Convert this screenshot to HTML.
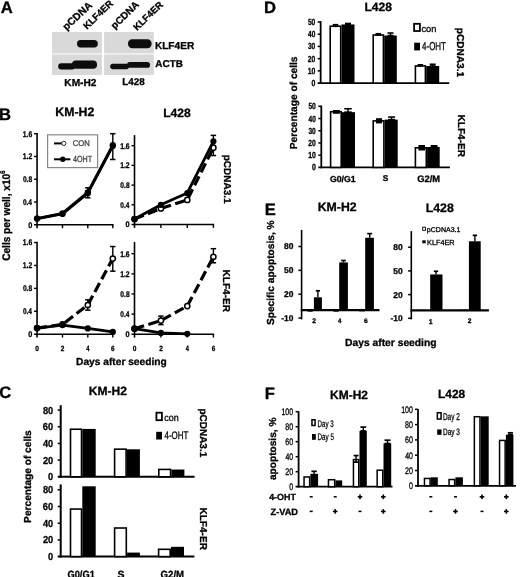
<!DOCTYPE html>
<html><head><meta charset="utf-8"><style>
html,body{margin:0;padding:0;background:#fff;}
svg{display:block;will-change:transform;filter:blur(0.35px);text-rendering:geometricPrecision;font-family:"Liberation Sans", sans-serif;}
text{stroke-width:0.3px;stroke-linejoin:round;}
</style></head><body>
<svg width="520" height="577" viewBox="0 0 520 577">
<defs><filter id="blur1" x="-20%" y="-50%" width="140%" height="200%"><feGaussianBlur stdDeviation="0.7"/></filter></defs>
<rect width="520" height="577" fill="#fff"/>
<text x="0.80" y="13.20" font-size="16.60" font-weight="bold" fill="#000" stroke="#000">A</text>
<text x="-1.00" y="119.50" font-size="16.60" font-weight="bold" fill="#000" stroke="#000">B</text>
<text x="-0.70" y="398.20" font-size="16.60" font-weight="bold" fill="#000" stroke="#000">C</text>
<text x="264.10" y="13.40" font-size="16.60" font-weight="bold" fill="#000" stroke="#000">D</text>
<text x="264.70" y="215.20" font-size="16.60" font-weight="bold" fill="#000" stroke="#000">E</text>
<text x="264.70" y="398.50" font-size="16.60" font-weight="bold" fill="#000" stroke="#000">F</text>
<rect x="52.00" y="32.00" width="49.90" height="21.40" fill="#d9d9d9"/>
<rect x="52.00" y="54.40" width="49.90" height="20.60" fill="#d9d9d9"/>
<rect x="104.10" y="32.00" width="49.70" height="21.40" fill="#d9d9d9"/>
<rect x="104.10" y="54.40" width="49.70" height="20.60" fill="#d9d9d9"/>
<g filter="url(#blur1)" fill="#0a0a0a">
<rect x="77.00" y="40.00" width="20.80" height="7.40" fill="#0a0a0a" rx="3.6"/>
<rect x="128.00" y="39.30" width="23.60" height="8.90" fill="#0a0a0a" rx="4.2"/>
<rect x="58.20" y="63.30" width="16.80" height="6.30" fill="#0a0a0a" rx="3"/>
<rect x="72.00" y="60.60" width="25.00" height="8.20" fill="#0a0a0a" rx="3.8"/>
<rect x="110.20" y="63.80" width="18.80" height="5.40" fill="#0a0a0a" rx="2.7"/>
<rect x="127.00" y="62.00" width="23.00" height="5.80" fill="#0a0a0a" rx="2.9"/>
</g>
<text transform="translate(66.50,30.80) rotate(-43)" font-size="10.30" font-weight="bold" fill="#000" stroke="#000">pCDNA</text>
<text transform="translate(87.00,29.80) rotate(-44)" font-size="9.50" font-weight="bold" fill="#000" stroke="#000">KLF4ER</text>
<text transform="translate(114.80,29.40) rotate(-44)" font-size="9.90" font-weight="bold" fill="#000" stroke="#000">pCDNA</text>
<text transform="translate(137.00,31.10) rotate(-44)" font-size="9.50" font-weight="bold" fill="#000" stroke="#000">KLF4ER</text>
<text x="154.92" y="48.82" font-size="10.11" font-weight="bold" textLength="39.30" lengthAdjust="spacingAndGlyphs" fill="#000" stroke="#000">KLF4ER</text>
<text x="155.35" y="67.17" font-size="9.94" font-weight="bold" textLength="27.59" lengthAdjust="spacingAndGlyphs" fill="#000" stroke="#000">ACTB</text>
<text x="64.32" y="85.99" font-size="10.14" font-weight="bold" textLength="32.11" lengthAdjust="spacingAndGlyphs" fill="#000" stroke="#000">KM-H2</text>
<text x="122.23" y="85.49" font-size="9.86" font-weight="bold" textLength="22.48" lengthAdjust="spacingAndGlyphs" fill="#000" stroke="#000">L428</text>
<text x="55.37" y="116.39" font-size="12.30" font-weight="bold" textLength="38.94" lengthAdjust="spacingAndGlyphs" fill="#000" stroke="#000">KM-H2</text>
<text x="163.19" y="116.80" font-size="12.06" font-weight="bold" textLength="27.50" lengthAdjust="spacingAndGlyphs" fill="#000" stroke="#000">L428</text>
<text transform="translate(9.6,260.8) rotate(-90)" font-size="11" font-weight="bold" textLength="90.5" lengthAdjust="spacingAndGlyphs" stroke="#000">Cells per well, x10<tspan font-size="7" dy="-4.2">6</tspan></text>
<text transform="translate(223.86,154.75) rotate(90)" font-size="9.97" font-weight="bold" textLength="48.75" lengthAdjust="spacingAndGlyphs" fill="#000" stroke="#000">pCDNA3.1</text>
<text transform="translate(222.99,269.52) rotate(90)" font-size="10.07" font-weight="bold" textLength="42.50" lengthAdjust="spacingAndGlyphs" fill="#000" stroke="#000">KLF4-ER</text>
<text x="76.11" y="364.96" font-size="10.18" font-weight="bold" textLength="90.55" lengthAdjust="spacingAndGlyphs" fill="#000" stroke="#000">Days after seeding</text>
<line x1="37.05" y1="133.00" x2="37.05" y2="228.20" stroke="#000" stroke-width="1.6" stroke-linecap="butt"/>
<line x1="34.05" y1="224.80" x2="113.60" y2="224.80" stroke="#000" stroke-width="1.6" stroke-linecap="butt"/>
<line x1="34.05" y1="202.02" x2="37.05" y2="202.02" stroke="#000" stroke-width="1.4" stroke-linecap="butt"/>
<line x1="34.05" y1="179.25" x2="37.05" y2="179.25" stroke="#000" stroke-width="1.4" stroke-linecap="butt"/>
<line x1="34.05" y1="156.47" x2="37.05" y2="156.47" stroke="#000" stroke-width="1.4" stroke-linecap="butt"/>
<line x1="34.05" y1="133.70" x2="37.05" y2="133.70" stroke="#000" stroke-width="1.4" stroke-linecap="butt"/>
<line x1="62.50" y1="224.80" x2="62.50" y2="228.20" stroke="#000" stroke-width="1.4" stroke-linecap="butt"/>
<line x1="87.80" y1="224.80" x2="87.80" y2="228.20" stroke="#000" stroke-width="1.4" stroke-linecap="butt"/>
<line x1="112.80" y1="224.80" x2="112.80" y2="228.20" stroke="#000" stroke-width="1.4" stroke-linecap="butt"/>
<text x="28.16" y="227.62" font-size="8.20" font-weight="bold" textLength="4.10" lengthAdjust="spacingAndGlyphs" fill="#000" stroke="#000">0</text>
<text x="22.89" y="204.84" font-size="8.20" font-weight="bold" textLength="9.10" lengthAdjust="spacingAndGlyphs" fill="#000" stroke="#000">0.4</text>
<text x="22.88" y="182.07" font-size="8.20" font-weight="bold" textLength="9.27" lengthAdjust="spacingAndGlyphs" fill="#000" stroke="#000">0.8</text>
<text x="22.72" y="159.37" font-size="8.32" font-weight="bold" textLength="9.50" lengthAdjust="spacingAndGlyphs" fill="#000" stroke="#000">1.2</text>
<text x="22.72" y="136.51" font-size="8.20" font-weight="bold" textLength="9.47" lengthAdjust="spacingAndGlyphs" fill="#000" stroke="#000">1.6</text>
<line x1="112.80" y1="133.70" x2="112.80" y2="159.49" stroke="#000" stroke-width="1.4" stroke-linecap="butt"/>
<line x1="110.10" y1="133.70" x2="115.50" y2="133.70" stroke="#000" stroke-width="1.5" stroke-linecap="butt"/>
<line x1="110.10" y1="159.49" x2="115.50" y2="159.49" stroke="#000" stroke-width="1.5" stroke-linecap="butt"/>
<line x1="87.80" y1="187.79" x2="87.80" y2="197.75" stroke="#000" stroke-width="1.4" stroke-linecap="butt"/>
<line x1="85.10" y1="187.79" x2="90.50" y2="187.79" stroke="#000" stroke-width="1.5" stroke-linecap="butt"/>
<line x1="85.10" y1="197.75" x2="90.50" y2="197.75" stroke="#000" stroke-width="1.5" stroke-linecap="butt"/>
<polyline points="37.05,218.54 62.50,213.98 87.80,193.20 112.80,145.88" fill="none" stroke="#000" stroke-width="2.8" stroke-linecap="butt" stroke-linejoin="round"/>
<circle cx="37.05" cy="218.54" r="3.10" fill="#000"/>
<circle cx="62.50" cy="213.98" r="3.10" fill="#000"/>
<circle cx="87.80" cy="193.20" r="3.10" fill="#000"/>
<circle cx="112.80" cy="145.88" r="3.10" fill="#000"/>
<polyline points="37.05,218.54 62.50,213.41 87.80,192.34 112.80,145.08" fill="none" stroke="#000" stroke-width="2.8" stroke-linecap="butt" stroke-linejoin="round"/>
<circle cx="37.05" cy="218.54" r="3.10" fill="#000"/>
<circle cx="62.50" cy="213.41" r="3.10" fill="#000"/>
<circle cx="87.80" cy="192.34" r="3.10" fill="#000"/>
<circle cx="112.80" cy="145.08" r="3.10" fill="#000"/>
<line x1="134.50" y1="135.10" x2="134.50" y2="227.90" stroke="#000" stroke-width="1.6" stroke-linecap="butt"/>
<line x1="131.50" y1="224.50" x2="214.20" y2="224.50" stroke="#000" stroke-width="1.6" stroke-linecap="butt"/>
<line x1="131.50" y1="204.80" x2="134.50" y2="204.80" stroke="#000" stroke-width="1.4" stroke-linecap="butt"/>
<line x1="131.50" y1="185.10" x2="134.50" y2="185.10" stroke="#000" stroke-width="1.4" stroke-linecap="butt"/>
<line x1="131.50" y1="165.40" x2="134.50" y2="165.40" stroke="#000" stroke-width="1.4" stroke-linecap="butt"/>
<line x1="131.50" y1="145.70" x2="134.50" y2="145.70" stroke="#000" stroke-width="1.4" stroke-linecap="butt"/>
<line x1="160.90" y1="224.50" x2="160.90" y2="227.90" stroke="#000" stroke-width="1.4" stroke-linecap="butt"/>
<line x1="187.30" y1="224.50" x2="187.30" y2="227.90" stroke="#000" stroke-width="1.4" stroke-linecap="butt"/>
<line x1="213.40" y1="224.50" x2="213.40" y2="227.90" stroke="#000" stroke-width="1.4" stroke-linecap="butt"/>
<text x="125.61" y="227.32" font-size="8.20" font-weight="bold" textLength="4.10" lengthAdjust="spacingAndGlyphs" fill="#000" stroke="#000">0</text>
<text x="120.34" y="207.62" font-size="8.20" font-weight="bold" textLength="9.10" lengthAdjust="spacingAndGlyphs" fill="#000" stroke="#000">0.4</text>
<text x="120.33" y="187.92" font-size="8.20" font-weight="bold" textLength="9.27" lengthAdjust="spacingAndGlyphs" fill="#000" stroke="#000">0.8</text>
<text x="120.17" y="168.30" font-size="8.32" font-weight="bold" textLength="9.50" lengthAdjust="spacingAndGlyphs" fill="#000" stroke="#000">1.2</text>
<text x="120.17" y="148.52" font-size="8.20" font-weight="bold" textLength="9.47" lengthAdjust="spacingAndGlyphs" fill="#000" stroke="#000">1.6</text>
<line x1="213.40" y1="135.36" x2="213.40" y2="155.55" stroke="#000" stroke-width="1.4" stroke-linecap="butt"/>
<line x1="210.70" y1="135.36" x2="216.10" y2="135.36" stroke="#000" stroke-width="1.5" stroke-linecap="butt"/>
<line x1="210.70" y1="155.55" x2="216.10" y2="155.55" stroke="#000" stroke-width="1.5" stroke-linecap="butt"/>
<polyline points="134.50,219.08 160.90,208.49 187.30,199.88 213.40,147.67" fill="none" stroke="#000" stroke-width="3.2" stroke-dasharray="10,4.5" stroke-linecap="butt" stroke-linejoin="round"/>
<circle cx="134.50" cy="219.08" r="2.60" fill="#fff" stroke="#000" stroke-width="1.5"/>
<circle cx="160.90" cy="208.49" r="2.60" fill="#fff" stroke="#000" stroke-width="1.5"/>
<circle cx="187.30" cy="199.88" r="2.60" fill="#fff" stroke="#000" stroke-width="1.5"/>
<circle cx="213.40" cy="147.67" r="2.60" fill="#fff" stroke="#000" stroke-width="1.5"/>
<polyline points="134.50,219.08 160.90,204.80 187.30,192.98 213.40,141.27" fill="none" stroke="#000" stroke-width="2.8" stroke-linecap="butt" stroke-linejoin="round"/>
<circle cx="134.50" cy="219.08" r="3.10" fill="#000"/>
<circle cx="160.90" cy="204.80" r="3.10" fill="#000"/>
<circle cx="187.30" cy="192.98" r="3.10" fill="#000"/>
<circle cx="213.40" cy="141.27" r="3.10" fill="#000"/>
<line x1="37.05" y1="241.80" x2="37.05" y2="337.60" stroke="#000" stroke-width="1.6" stroke-linecap="butt"/>
<line x1="34.05" y1="334.20" x2="113.60" y2="334.20" stroke="#000" stroke-width="1.6" stroke-linecap="butt"/>
<line x1="34.05" y1="311.28" x2="37.05" y2="311.28" stroke="#000" stroke-width="1.4" stroke-linecap="butt"/>
<line x1="34.05" y1="288.36" x2="37.05" y2="288.36" stroke="#000" stroke-width="1.4" stroke-linecap="butt"/>
<line x1="34.05" y1="265.44" x2="37.05" y2="265.44" stroke="#000" stroke-width="1.4" stroke-linecap="butt"/>
<line x1="34.05" y1="242.52" x2="37.05" y2="242.52" stroke="#000" stroke-width="1.4" stroke-linecap="butt"/>
<line x1="62.50" y1="334.20" x2="62.50" y2="337.60" stroke="#000" stroke-width="1.4" stroke-linecap="butt"/>
<line x1="87.80" y1="334.20" x2="87.80" y2="337.60" stroke="#000" stroke-width="1.4" stroke-linecap="butt"/>
<line x1="112.80" y1="334.20" x2="112.80" y2="337.60" stroke="#000" stroke-width="1.4" stroke-linecap="butt"/>
<text x="28.16" y="337.02" font-size="8.20" font-weight="bold" textLength="4.10" lengthAdjust="spacingAndGlyphs" fill="#000" stroke="#000">0</text>
<text x="22.89" y="314.10" font-size="8.20" font-weight="bold" textLength="9.10" lengthAdjust="spacingAndGlyphs" fill="#000" stroke="#000">0.4</text>
<text x="22.88" y="291.18" font-size="8.20" font-weight="bold" textLength="9.27" lengthAdjust="spacingAndGlyphs" fill="#000" stroke="#000">0.8</text>
<text x="22.72" y="268.34" font-size="8.32" font-weight="bold" textLength="9.50" lengthAdjust="spacingAndGlyphs" fill="#000" stroke="#000">1.2</text>
<text x="22.72" y="245.34" font-size="8.20" font-weight="bold" textLength="9.47" lengthAdjust="spacingAndGlyphs" fill="#000" stroke="#000">1.6</text>
<text x="35.29" y="350.93" font-size="7.49" font-weight="bold" textLength="3.63" lengthAdjust="spacingAndGlyphs" fill="#000" stroke="#000">0</text>
<text x="60.77" y="351.00" font-size="7.60" font-weight="bold" textLength="3.59" lengthAdjust="spacingAndGlyphs" fill="#000" stroke="#000">2</text>
<text x="86.21" y="351.00" font-size="7.71" font-weight="bold" textLength="3.22" lengthAdjust="spacingAndGlyphs" fill="#000" stroke="#000">4</text>
<text x="111.06" y="350.93" font-size="7.49" font-weight="bold" textLength="3.57" lengthAdjust="spacingAndGlyphs" fill="#000" stroke="#000">6</text>
<line x1="112.80" y1="246.53" x2="112.80" y2="271.17" stroke="#000" stroke-width="1.4" stroke-linecap="butt"/>
<line x1="110.10" y1="246.53" x2="115.50" y2="246.53" stroke="#000" stroke-width="1.5" stroke-linecap="butt"/>
<line x1="110.10" y1="271.17" x2="115.50" y2="271.17" stroke="#000" stroke-width="1.5" stroke-linecap="butt"/>
<line x1="87.80" y1="299.82" x2="87.80" y2="310.13" stroke="#000" stroke-width="1.4" stroke-linecap="butt"/>
<line x1="85.10" y1="299.82" x2="90.50" y2="299.82" stroke="#000" stroke-width="1.5" stroke-linecap="butt"/>
<line x1="85.10" y1="310.13" x2="90.50" y2="310.13" stroke="#000" stroke-width="1.5" stroke-linecap="butt"/>
<polyline points="37.05,328.07 62.50,324.46 87.80,304.98 112.80,258.56" fill="none" stroke="#000" stroke-width="3.2" stroke-dasharray="10,4.5" stroke-linecap="butt" stroke-linejoin="round"/>
<circle cx="37.05" cy="328.07" r="2.60" fill="#fff" stroke="#000" stroke-width="1.5"/>
<circle cx="62.50" cy="324.46" r="2.60" fill="#fff" stroke="#000" stroke-width="1.5"/>
<circle cx="87.80" cy="304.98" r="2.60" fill="#fff" stroke="#000" stroke-width="1.5"/>
<circle cx="112.80" cy="258.56" r="2.60" fill="#fff" stroke="#000" stroke-width="1.5"/>
<polyline points="37.05,328.07 62.50,325.03 87.80,328.47 112.80,331.91" fill="none" stroke="#000" stroke-width="2.8" stroke-linecap="butt" stroke-linejoin="round"/>
<circle cx="37.05" cy="328.07" r="3.10" fill="#000"/>
<circle cx="62.50" cy="325.03" r="3.10" fill="#000"/>
<circle cx="87.80" cy="328.47" r="3.10" fill="#000"/>
<circle cx="112.80" cy="331.91" r="3.10" fill="#000"/>
<line x1="134.50" y1="241.90" x2="134.50" y2="337.60" stroke="#000" stroke-width="1.6" stroke-linecap="butt"/>
<line x1="131.50" y1="334.20" x2="214.20" y2="334.20" stroke="#000" stroke-width="1.6" stroke-linecap="butt"/>
<line x1="131.50" y1="314.08" x2="134.50" y2="314.08" stroke="#000" stroke-width="1.4" stroke-linecap="butt"/>
<line x1="131.50" y1="293.96" x2="134.50" y2="293.96" stroke="#000" stroke-width="1.4" stroke-linecap="butt"/>
<line x1="131.50" y1="273.84" x2="134.50" y2="273.84" stroke="#000" stroke-width="1.4" stroke-linecap="butt"/>
<line x1="131.50" y1="253.72" x2="134.50" y2="253.72" stroke="#000" stroke-width="1.4" stroke-linecap="butt"/>
<line x1="160.90" y1="334.20" x2="160.90" y2="337.60" stroke="#000" stroke-width="1.4" stroke-linecap="butt"/>
<line x1="187.30" y1="334.20" x2="187.30" y2="337.60" stroke="#000" stroke-width="1.4" stroke-linecap="butt"/>
<line x1="213.40" y1="334.20" x2="213.40" y2="337.60" stroke="#000" stroke-width="1.4" stroke-linecap="butt"/>
<text x="125.61" y="337.02" font-size="8.20" font-weight="bold" textLength="4.10" lengthAdjust="spacingAndGlyphs" fill="#000" stroke="#000">0</text>
<text x="120.34" y="316.90" font-size="8.20" font-weight="bold" textLength="9.10" lengthAdjust="spacingAndGlyphs" fill="#000" stroke="#000">0.4</text>
<text x="120.33" y="296.78" font-size="8.20" font-weight="bold" textLength="9.27" lengthAdjust="spacingAndGlyphs" fill="#000" stroke="#000">0.8</text>
<text x="120.17" y="276.74" font-size="8.32" font-weight="bold" textLength="9.50" lengthAdjust="spacingAndGlyphs" fill="#000" stroke="#000">1.2</text>
<text x="120.17" y="256.54" font-size="8.20" font-weight="bold" textLength="9.47" lengthAdjust="spacingAndGlyphs" fill="#000" stroke="#000">1.6</text>
<text x="132.74" y="350.93" font-size="7.49" font-weight="bold" textLength="3.63" lengthAdjust="spacingAndGlyphs" fill="#000" stroke="#000">0</text>
<text x="159.17" y="351.00" font-size="7.60" font-weight="bold" textLength="3.59" lengthAdjust="spacingAndGlyphs" fill="#000" stroke="#000">2</text>
<text x="185.71" y="351.00" font-size="7.71" font-weight="bold" textLength="3.22" lengthAdjust="spacingAndGlyphs" fill="#000" stroke="#000">4</text>
<text x="211.66" y="350.93" font-size="7.49" font-weight="bold" textLength="3.57" lengthAdjust="spacingAndGlyphs" fill="#000" stroke="#000">6</text>
<line x1="213.40" y1="248.69" x2="213.40" y2="262.77" stroke="#000" stroke-width="1.4" stroke-linecap="butt"/>
<line x1="210.70" y1="248.69" x2="216.10" y2="248.69" stroke="#000" stroke-width="1.5" stroke-linecap="butt"/>
<line x1="210.70" y1="262.77" x2="216.10" y2="262.77" stroke="#000" stroke-width="1.5" stroke-linecap="butt"/>
<line x1="160.90" y1="316.09" x2="160.90" y2="324.64" stroke="#000" stroke-width="1.4" stroke-linecap="butt"/>
<line x1="158.20" y1="316.09" x2="163.60" y2="316.09" stroke="#000" stroke-width="1.5" stroke-linecap="butt"/>
<line x1="158.20" y1="324.64" x2="163.60" y2="324.64" stroke="#000" stroke-width="1.5" stroke-linecap="butt"/>
<polyline points="134.50,328.67 160.90,320.62 187.30,306.03 213.40,256.74" fill="none" stroke="#000" stroke-width="3.2" stroke-dasharray="10,4.5" stroke-linecap="butt" stroke-linejoin="round"/>
<circle cx="134.50" cy="328.67" r="2.60" fill="#fff" stroke="#000" stroke-width="1.5"/>
<circle cx="160.90" cy="320.62" r="2.60" fill="#fff" stroke="#000" stroke-width="1.5"/>
<circle cx="187.30" cy="306.03" r="2.60" fill="#fff" stroke="#000" stroke-width="1.5"/>
<circle cx="213.40" cy="256.74" r="2.60" fill="#fff" stroke="#000" stroke-width="1.5"/>
<polyline points="134.50,328.67 160.90,332.94 187.30,333.80" fill="none" stroke="#000" stroke-width="2.8" stroke-linecap="butt" stroke-linejoin="round"/>
<circle cx="134.50" cy="328.67" r="3.10" fill="#000"/>
<circle cx="160.90" cy="332.94" r="3.10" fill="#000"/>
<circle cx="187.30" cy="333.80" r="3.10" fill="#000"/>
<rect x="47.60" y="134.80" width="50.00" height="32.80" fill="#fff" stroke="#888" stroke-width="1.2"/>
<line x1="54.00" y1="143.40" x2="62.00" y2="143.40" stroke="#000" stroke-width="2.0" stroke-linecap="butt"/>
<circle cx="63.80" cy="143.40" r="2.10" fill="#fff" stroke="#222" stroke-width="1.0"/>
<line x1="54.00" y1="159.30" x2="70.40" y2="159.30" stroke="#000" stroke-width="2.0" stroke-linecap="butt"/>
<circle cx="62.80" cy="159.30" r="2.70" fill="#000"/>
<text x="72.82" y="146.42" font-size="8.34" font-weight="normal" textLength="17.01" lengthAdjust="spacingAndGlyphs" fill="#444" stroke="#444">CON</text>
<text x="73.04" y="162.31" font-size="8.90" font-weight="normal" textLength="19.04" lengthAdjust="spacingAndGlyphs" fill="#444" stroke="#444">4OHT</text>
<text x="88.79" y="394.81" font-size="12.07" font-weight="bold" textLength="38.22" lengthAdjust="spacingAndGlyphs" fill="#000" stroke="#000">KM-H2</text>
<line x1="60.70" y1="405.20" x2="60.70" y2="477.80" stroke="#000" stroke-width="2.0" stroke-linecap="butt"/>
<line x1="57.70" y1="476.80" x2="194.60" y2="476.80" stroke="#000" stroke-width="2.0" stroke-linecap="butt"/>
<text x="48.03" y="480.30" font-size="10.18" font-weight="bold" textLength="5.15" lengthAdjust="spacingAndGlyphs" fill="#000" stroke="#000">0</text>
<line x1="57.70" y1="460.12" x2="60.70" y2="460.12" stroke="#000" stroke-width="1.5" stroke-linecap="butt"/>
<text x="42.88" y="463.62" font-size="10.18" font-weight="bold" textLength="10.32" lengthAdjust="spacingAndGlyphs" fill="#000" stroke="#000">20</text>
<line x1="57.70" y1="443.44" x2="60.70" y2="443.44" stroke="#000" stroke-width="1.5" stroke-linecap="butt"/>
<text x="43.06" y="446.94" font-size="10.18" font-weight="bold" textLength="10.12" lengthAdjust="spacingAndGlyphs" fill="#000" stroke="#000">40</text>
<line x1="57.70" y1="426.76" x2="60.70" y2="426.76" stroke="#000" stroke-width="1.5" stroke-linecap="butt"/>
<text x="42.85" y="430.26" font-size="10.18" font-weight="bold" textLength="10.34" lengthAdjust="spacingAndGlyphs" fill="#000" stroke="#000">60</text>
<line x1="57.70" y1="410.08" x2="60.70" y2="410.08" stroke="#000" stroke-width="1.5" stroke-linecap="butt"/>
<text x="42.90" y="413.58" font-size="10.18" font-weight="bold" textLength="10.29" lengthAdjust="spacingAndGlyphs" fill="#000" stroke="#000">80</text>
<rect x="70.50" y="429.23" width="11.00" height="47.57" fill="#fff" stroke="#000" stroke-width="1.6"/>
<rect x="82.30" y="428.93" width="13.40" height="47.87" fill="#000"/>
<rect x="114.60" y="449.16" width="11.50" height="27.64" fill="#fff" stroke="#000" stroke-width="1.6"/>
<rect x="126.90" y="449.28" width="13.00" height="27.52" fill="#000"/>
<rect x="158.80" y="469.43" width="11.80" height="7.37" fill="#fff" stroke="#000" stroke-width="1.6"/>
<rect x="171.40" y="469.54" width="13.00" height="7.26" fill="#000"/>
<line x1="60.70" y1="484.40" x2="60.70" y2="557.60" stroke="#000" stroke-width="2.0" stroke-linecap="butt"/>
<line x1="57.70" y1="556.60" x2="194.40" y2="556.60" stroke="#000" stroke-width="2.0" stroke-linecap="butt"/>
<text x="48.03" y="560.10" font-size="10.18" font-weight="bold" textLength="5.15" lengthAdjust="spacingAndGlyphs" fill="#000" stroke="#000">0</text>
<line x1="57.70" y1="539.90" x2="60.70" y2="539.90" stroke="#000" stroke-width="1.5" stroke-linecap="butt"/>
<text x="42.88" y="543.40" font-size="10.18" font-weight="bold" textLength="10.32" lengthAdjust="spacingAndGlyphs" fill="#000" stroke="#000">20</text>
<line x1="57.70" y1="523.20" x2="60.70" y2="523.20" stroke="#000" stroke-width="1.5" stroke-linecap="butt"/>
<text x="43.06" y="526.70" font-size="10.18" font-weight="bold" textLength="10.12" lengthAdjust="spacingAndGlyphs" fill="#000" stroke="#000">40</text>
<line x1="57.70" y1="506.50" x2="60.70" y2="506.50" stroke="#000" stroke-width="1.5" stroke-linecap="butt"/>
<text x="42.85" y="510.00" font-size="10.18" font-weight="bold" textLength="10.34" lengthAdjust="spacingAndGlyphs" fill="#000" stroke="#000">60</text>
<line x1="57.70" y1="489.80" x2="60.70" y2="489.80" stroke="#000" stroke-width="1.5" stroke-linecap="butt"/>
<text x="42.90" y="493.30" font-size="10.18" font-weight="bold" textLength="10.29" lengthAdjust="spacingAndGlyphs" fill="#000" stroke="#000">80</text>
<rect x="70.50" y="509.05" width="11.00" height="47.55" fill="#fff" stroke="#000" stroke-width="1.6"/>
<rect x="82.30" y="486.29" width="13.40" height="70.31" fill="#000"/>
<rect x="114.60" y="528.01" width="11.70" height="28.59" fill="#fff" stroke="#000" stroke-width="1.6"/>
<rect x="127.10" y="552.59" width="12.80" height="4.01" fill="#000"/>
<rect x="158.60" y="549.30" width="11.60" height="7.30" fill="#fff" stroke="#000" stroke-width="1.6"/>
<rect x="171.00" y="546.83" width="13.00" height="9.77" fill="#000"/>
<rect x="156.40" y="412.70" width="5.50" height="7.50" fill="#fff" stroke="#000" stroke-width="1.8"/>
<rect x="156.20" y="431.80" width="5.80" height="7.70" fill="#000"/>
<text x="164.32" y="421.00" font-size="9.86" font-weight="normal" textLength="14.49" lengthAdjust="spacingAndGlyphs" fill="#000" stroke="#000">con</text>
<text x="164.52" y="439.39" font-size="10.88" font-weight="normal" textLength="23.86" lengthAdjust="spacingAndGlyphs" fill="#000" stroke="#000">4-OHT</text>
<text transform="translate(199.96,408.45) rotate(90)" font-size="9.97" font-weight="bold" textLength="48.75" lengthAdjust="spacingAndGlyphs" fill="#000" stroke="#000">pCDNA3.1</text>
<text transform="translate(200.24,507.42) rotate(90)" font-size="10.07" font-weight="bold" textLength="42.50" lengthAdjust="spacingAndGlyphs" fill="#000" stroke="#000">KLF4-ER</text>
<text transform="translate(31.20,522.89) rotate(-90)" font-size="10.16" font-weight="bold" textLength="92.60" lengthAdjust="spacingAndGlyphs" fill="#000" stroke="#000">Percentage of cells</text>
<text x="67.50" y="578.00" font-size="10.40" font-weight="bold" textLength="27.30" lengthAdjust="spacingAndGlyphs" fill="#000" stroke="#000">G0/G1</text>
<text x="117.50" y="578.00" font-size="10.40" font-weight="bold" textLength="7.00" lengthAdjust="spacingAndGlyphs" fill="#000" stroke="#000">S</text>
<text x="160.60" y="578.00" font-size="10.40" font-weight="bold" textLength="23.50" lengthAdjust="spacingAndGlyphs" fill="#000" stroke="#000">G2/M</text>
<text x="364.49" y="10.50" font-size="12.06" font-weight="bold" textLength="27.50" lengthAdjust="spacingAndGlyphs" fill="#000" stroke="#000">L428</text>
<line x1="320.65" y1="21.10" x2="320.65" y2="84.00" stroke="#000" stroke-width="1.8" stroke-linecap="butt"/>
<line x1="317.65" y1="83.10" x2="449.20" y2="83.10" stroke="#000" stroke-width="1.8" stroke-linecap="butt"/>
<text x="311.42" y="86.16" font-size="8.90" font-weight="bold" textLength="3.86" lengthAdjust="spacingAndGlyphs" fill="#000" stroke="#000">0</text>
<line x1="317.65" y1="70.88" x2="320.65" y2="70.88" stroke="#000" stroke-width="1.5" stroke-linecap="butt"/>
<text x="307.67" y="73.94" font-size="8.90" font-weight="bold" textLength="7.62" lengthAdjust="spacingAndGlyphs" fill="#000" stroke="#000">10</text>
<line x1="317.65" y1="58.66" x2="320.65" y2="58.66" stroke="#000" stroke-width="1.5" stroke-linecap="butt"/>
<text x="307.87" y="61.72" font-size="8.90" font-weight="bold" textLength="7.42" lengthAdjust="spacingAndGlyphs" fill="#000" stroke="#000">20</text>
<line x1="317.65" y1="46.44" x2="320.65" y2="46.44" stroke="#000" stroke-width="1.5" stroke-linecap="butt"/>
<text x="307.95" y="49.48" font-size="8.87" font-weight="bold" textLength="7.33" lengthAdjust="spacingAndGlyphs" fill="#000" stroke="#000">30</text>
<line x1="317.65" y1="34.22" x2="320.65" y2="34.22" stroke="#000" stroke-width="1.5" stroke-linecap="butt"/>
<text x="308.00" y="37.28" font-size="8.90" font-weight="bold" textLength="7.28" lengthAdjust="spacingAndGlyphs" fill="#000" stroke="#000">40</text>
<line x1="317.65" y1="22.00" x2="320.65" y2="22.00" stroke="#000" stroke-width="1.5" stroke-linecap="butt"/>
<text x="307.90" y="25.06" font-size="8.90" font-weight="bold" textLength="7.38" lengthAdjust="spacingAndGlyphs" fill="#000" stroke="#000">50</text>
<rect x="330.20" y="26.22" width="10.50" height="56.88" fill="#fff" stroke="#000" stroke-width="1.6"/>
<rect x="341.50" y="24.44" width="13.00" height="58.66" fill="#000"/>
<rect x="373.20" y="35.02" width="10.20" height="48.08" fill="#fff" stroke="#000" stroke-width="1.6"/>
<rect x="384.20" y="35.56" width="12.60" height="47.54" fill="#000"/>
<rect x="415.40" y="65.94" width="10.00" height="17.16" fill="#fff" stroke="#000" stroke-width="1.6"/>
<rect x="426.20" y="65.99" width="13.00" height="17.11" fill="#000"/>
<line x1="335.50" y1="26.28" x2="335.50" y2="24.69" stroke="#000" stroke-width="1.4" stroke-linecap="butt"/>
<line x1="332.75" y1="24.69" x2="338.25" y2="24.69" stroke="#000" stroke-width="1.6" stroke-linecap="butt"/>
<line x1="332.75" y1="26.28" x2="338.25" y2="26.28" stroke="#000" stroke-width="1.6" stroke-linecap="butt"/>
<line x1="348.00" y1="24.44" x2="348.00" y2="23.47" stroke="#000" stroke-width="1.4" stroke-linecap="butt"/>
<line x1="345.00" y1="23.47" x2="351.00" y2="23.47" stroke="#000" stroke-width="1.6" stroke-linecap="butt"/>
<line x1="345.00" y1="24.44" x2="351.00" y2="24.44" stroke="#000" stroke-width="1.6" stroke-linecap="butt"/>
<line x1="378.30" y1="34.95" x2="378.30" y2="33.73" stroke="#000" stroke-width="1.4" stroke-linecap="butt"/>
<line x1="375.55" y1="33.73" x2="381.05" y2="33.73" stroke="#000" stroke-width="1.6" stroke-linecap="butt"/>
<line x1="375.55" y1="34.95" x2="381.05" y2="34.95" stroke="#000" stroke-width="1.6" stroke-linecap="butt"/>
<line x1="390.50" y1="35.56" x2="390.50" y2="33.00" stroke="#000" stroke-width="1.4" stroke-linecap="butt"/>
<line x1="387.50" y1="33.00" x2="393.50" y2="33.00" stroke="#000" stroke-width="1.6" stroke-linecap="butt"/>
<line x1="387.50" y1="35.56" x2="393.50" y2="35.56" stroke="#000" stroke-width="1.6" stroke-linecap="butt"/>
<line x1="420.40" y1="65.75" x2="420.40" y2="64.77" stroke="#000" stroke-width="1.4" stroke-linecap="butt"/>
<line x1="417.65" y1="64.77" x2="423.15" y2="64.77" stroke="#000" stroke-width="1.6" stroke-linecap="butt"/>
<line x1="417.65" y1="65.75" x2="423.15" y2="65.75" stroke="#000" stroke-width="1.6" stroke-linecap="butt"/>
<line x1="432.70" y1="65.99" x2="432.70" y2="64.28" stroke="#000" stroke-width="1.4" stroke-linecap="butt"/>
<line x1="429.70" y1="64.28" x2="435.70" y2="64.28" stroke="#000" stroke-width="1.6" stroke-linecap="butt"/>
<line x1="429.70" y1="65.99" x2="435.70" y2="65.99" stroke="#000" stroke-width="1.6" stroke-linecap="butt"/>
<line x1="321.30" y1="105.60" x2="321.30" y2="168.30" stroke="#000" stroke-width="1.8" stroke-linecap="butt"/>
<line x1="318.30" y1="167.40" x2="449.90" y2="167.40" stroke="#000" stroke-width="1.8" stroke-linecap="butt"/>
<text x="311.92" y="170.46" font-size="8.90" font-weight="bold" textLength="3.86" lengthAdjust="spacingAndGlyphs" fill="#000" stroke="#000">0</text>
<line x1="318.30" y1="155.18" x2="321.30" y2="155.18" stroke="#000" stroke-width="1.5" stroke-linecap="butt"/>
<text x="308.17" y="158.24" font-size="8.90" font-weight="bold" textLength="7.62" lengthAdjust="spacingAndGlyphs" fill="#000" stroke="#000">10</text>
<line x1="318.30" y1="142.96" x2="321.30" y2="142.96" stroke="#000" stroke-width="1.5" stroke-linecap="butt"/>
<text x="308.37" y="146.02" font-size="8.90" font-weight="bold" textLength="7.42" lengthAdjust="spacingAndGlyphs" fill="#000" stroke="#000">20</text>
<line x1="318.30" y1="130.74" x2="321.30" y2="130.74" stroke="#000" stroke-width="1.5" stroke-linecap="butt"/>
<text x="308.45" y="133.78" font-size="8.87" font-weight="bold" textLength="7.33" lengthAdjust="spacingAndGlyphs" fill="#000" stroke="#000">30</text>
<line x1="318.30" y1="118.52" x2="321.30" y2="118.52" stroke="#000" stroke-width="1.5" stroke-linecap="butt"/>
<text x="308.50" y="121.58" font-size="8.90" font-weight="bold" textLength="7.28" lengthAdjust="spacingAndGlyphs" fill="#000" stroke="#000">40</text>
<line x1="318.30" y1="106.30" x2="321.30" y2="106.30" stroke="#000" stroke-width="1.5" stroke-linecap="butt"/>
<text x="308.40" y="109.36" font-size="8.90" font-weight="bold" textLength="7.38" lengthAdjust="spacingAndGlyphs" fill="#000" stroke="#000">50</text>
<rect x="330.60" y="111.74" width="10.60" height="55.66" fill="#fff" stroke="#000" stroke-width="1.6"/>
<rect x="342.00" y="112.17" width="13.00" height="55.23" fill="#000"/>
<rect x="373.20" y="120.91" width="10.70" height="46.49" fill="#fff" stroke="#000" stroke-width="1.6"/>
<rect x="384.70" y="119.62" width="13.00" height="47.78" fill="#000"/>
<rect x="415.40" y="147.79" width="10.90" height="19.61" fill="#fff" stroke="#000" stroke-width="1.6"/>
<rect x="427.10" y="146.99" width="12.60" height="20.41" fill="#000"/>
<line x1="348.00" y1="112.17" x2="348.00" y2="108.74" stroke="#000" stroke-width="1.4" stroke-linecap="butt"/>
<line x1="344.25" y1="108.74" x2="351.75" y2="108.74" stroke="#000" stroke-width="1.6" stroke-linecap="butt"/>
<line x1="344.25" y1="112.17" x2="351.75" y2="112.17" stroke="#000" stroke-width="1.6" stroke-linecap="butt"/>
<line x1="391.60" y1="119.62" x2="391.60" y2="117.05" stroke="#000" stroke-width="1.4" stroke-linecap="butt"/>
<line x1="388.10" y1="117.05" x2="395.10" y2="117.05" stroke="#000" stroke-width="1.6" stroke-linecap="butt"/>
<line x1="388.10" y1="119.62" x2="395.10" y2="119.62" stroke="#000" stroke-width="1.6" stroke-linecap="butt"/>
<rect x="332.90" y="110.00" width="6.90" height="3.80" fill="#000"/>
<rect x="376.00" y="118.20" width="6.10" height="5.20" fill="#000"/>
<rect x="418.40" y="145.00" width="6.60" height="5.50" fill="#000"/>
<rect x="430.60" y="145.00" width="6.90" height="5.50" fill="#000"/>
<rect x="414.10" y="23.80" width="5.80" height="7.20" fill="#fff" stroke="#000" stroke-width="1.8"/>
<rect x="414.20" y="42.70" width="5.80" height="7.70" fill="#000"/>
<text x="421.51" y="31.64" font-size="9.25" font-weight="normal" textLength="14.92" lengthAdjust="spacingAndGlyphs" fill="#000" stroke="#000">con</text>
<text x="422.12" y="50.29" font-size="11.45" font-weight="normal" textLength="23.86" lengthAdjust="spacingAndGlyphs" fill="#000" stroke="#000">4-OHT</text>
<text transform="translate(457.18,27.74) rotate(90)" font-size="10.09" font-weight="bold" textLength="49.36" lengthAdjust="spacingAndGlyphs" fill="#000" stroke="#000">pCDNA3.1</text>
<text transform="translate(458.24,114.52) rotate(90)" font-size="10.07" font-weight="bold" textLength="42.50" lengthAdjust="spacingAndGlyphs" fill="#000" stroke="#000">KLF4-ER</text>
<text transform="translate(297.01,149.19) rotate(-90)" font-size="10.17" font-weight="bold" textLength="92.70" lengthAdjust="spacingAndGlyphs" fill="#000" stroke="#000">Percentage of cells</text>
<text x="329.95" y="181.84" font-size="8.76" font-weight="bold" textLength="25.80" lengthAdjust="spacingAndGlyphs" fill="#000" stroke="#000">G0/G1</text>
<text x="382.85" y="181.38" font-size="8.37" font-weight="bold" textLength="5.58" lengthAdjust="spacingAndGlyphs" fill="#000" stroke="#000">S</text>
<text x="417.23" y="182.05" font-size="9.37" font-weight="bold" textLength="22.91" lengthAdjust="spacingAndGlyphs" fill="#000" stroke="#000">G2/M</text>
<text x="317.77" y="211.43" font-size="12.26" font-weight="bold" textLength="38.84" lengthAdjust="spacingAndGlyphs" fill="#000" stroke="#000">KM-H2</text>
<text x="425.77" y="212.08" font-size="12.29" font-weight="bold" textLength="28.02" lengthAdjust="spacingAndGlyphs" fill="#000" stroke="#000">L428</text>
<text transform="translate(274.09,325.11) rotate(-90)" font-size="10.19" font-weight="bold" textLength="104.77" lengthAdjust="spacingAndGlyphs" fill="#000" stroke="#000">Specific apoptosis, %</text>
<text x="345.00" y="346.14" font-size="10.30" font-weight="bold" textLength="91.57" lengthAdjust="spacingAndGlyphs" fill="#000" stroke="#000">Days after seeding</text>
<line x1="301.60" y1="229.90" x2="301.60" y2="319.40" stroke="#000" stroke-width="1.6" stroke-linecap="butt"/>
<line x1="300.80" y1="310.10" x2="379.50" y2="310.10" stroke="#000" stroke-width="2.4" stroke-linecap="butt"/>
<line x1="298.40" y1="246.50" x2="301.60" y2="246.50" stroke="#000" stroke-width="1.5" stroke-linecap="butt"/>
<text x="284.02" y="249.42" font-size="8.48" font-weight="bold" textLength="9.43" lengthAdjust="spacingAndGlyphs" fill="#000" stroke="#000">80</text>
<line x1="298.40" y1="270.35" x2="301.60" y2="270.35" stroke="#000" stroke-width="1.5" stroke-linecap="butt"/>
<text x="284.05" y="273.26" font-size="8.46" font-weight="bold" textLength="9.41" lengthAdjust="spacingAndGlyphs" fill="#000" stroke="#000">50</text>
<line x1="298.40" y1="294.20" x2="301.60" y2="294.20" stroke="#000" stroke-width="1.5" stroke-linecap="butt"/>
<text x="284.00" y="297.12" font-size="8.50" font-weight="bold" textLength="9.46" lengthAdjust="spacingAndGlyphs" fill="#000" stroke="#000">20</text>
<line x1="298.40" y1="318.05" x2="301.60" y2="318.05" stroke="#000" stroke-width="1.5" stroke-linecap="butt"/>
<text x="281.26" y="320.95" font-size="8.42" font-weight="bold" textLength="12.18" lengthAdjust="spacingAndGlyphs" fill="#000" stroke="#000">-10</text>
<rect x="307.50" y="309.60" width="5.20" height="2.09" fill="#000"/>
<rect x="313.90" y="297.30" width="8.00" height="12.80" fill="#000"/>
<rect x="333.50" y="309.60" width="5.20" height="2.09" fill="#000"/>
<rect x="339.20" y="262.40" width="8.70" height="47.70" fill="#000"/>
<rect x="359.00" y="309.60" width="5.70" height="1.77" fill="#000"/>
<rect x="365.20" y="237.75" width="8.70" height="72.35" fill="#000"/>
<text x="312.17" y="323.48" font-size="6.67" font-weight="bold" textLength="3.71" lengthAdjust="spacingAndGlyphs" fill="#000" stroke="#000">2</text>
<text x="338.11" y="323.40" font-size="6.55" font-weight="bold" textLength="3.33" lengthAdjust="spacingAndGlyphs" fill="#000" stroke="#000">4</text>
<text x="364.05" y="323.43" font-size="6.63" font-weight="bold" textLength="3.69" lengthAdjust="spacingAndGlyphs" fill="#000" stroke="#000">6</text>
<line x1="317.90" y1="297.30" x2="317.90" y2="290.78" stroke="#000" stroke-width="1.4" stroke-linecap="butt"/>
<line x1="315.80" y1="290.78" x2="320.00" y2="290.78" stroke="#000" stroke-width="1.7" stroke-linecap="butt"/>
<line x1="343.50" y1="262.40" x2="343.50" y2="260.49" stroke="#000" stroke-width="1.4" stroke-linecap="butt"/>
<line x1="341.20" y1="260.49" x2="345.80" y2="260.49" stroke="#000" stroke-width="1.7" stroke-linecap="butt"/>
<line x1="369.70" y1="237.75" x2="369.70" y2="233.62" stroke="#000" stroke-width="1.4" stroke-linecap="butt"/>
<line x1="367.20" y1="233.62" x2="372.20" y2="233.62" stroke="#000" stroke-width="1.7" stroke-linecap="butt"/>
<line x1="411.30" y1="231.10" x2="411.30" y2="319.40" stroke="#000" stroke-width="1.6" stroke-linecap="butt"/>
<line x1="410.50" y1="310.40" x2="488.90" y2="310.40" stroke="#000" stroke-width="2.4" stroke-linecap="butt"/>
<line x1="408.10" y1="247.20" x2="411.30" y2="247.20" stroke="#000" stroke-width="1.5" stroke-linecap="butt"/>
<text x="393.22" y="250.12" font-size="8.48" font-weight="bold" textLength="9.43" lengthAdjust="spacingAndGlyphs" fill="#000" stroke="#000">80</text>
<line x1="408.10" y1="270.90" x2="411.30" y2="270.90" stroke="#000" stroke-width="1.5" stroke-linecap="butt"/>
<text x="393.25" y="273.81" font-size="8.46" font-weight="bold" textLength="9.41" lengthAdjust="spacingAndGlyphs" fill="#000" stroke="#000">50</text>
<line x1="408.10" y1="294.60" x2="411.30" y2="294.60" stroke="#000" stroke-width="1.5" stroke-linecap="butt"/>
<text x="393.20" y="297.52" font-size="8.50" font-weight="bold" textLength="9.46" lengthAdjust="spacingAndGlyphs" fill="#000" stroke="#000">20</text>
<line x1="408.10" y1="318.30" x2="411.30" y2="318.30" stroke="#000" stroke-width="1.5" stroke-linecap="butt"/>
<text x="390.46" y="321.20" font-size="8.42" font-weight="bold" textLength="12.18" lengthAdjust="spacingAndGlyphs" fill="#000" stroke="#000">-10</text>
<rect x="430.20" y="274.45" width="12.30" height="35.94" fill="#000"/>
<rect x="458.00" y="309.77" width="10.00" height="0.63" fill="#000"/>
<rect x="468.90" y="241.27" width="11.80" height="69.12" fill="#000"/>
<text x="428.67" y="323.52" font-size="6.88" font-weight="bold" textLength="3.83" lengthAdjust="spacingAndGlyphs" fill="#000" stroke="#000">1</text>
<text x="467.67" y="323.48" font-size="6.67" font-weight="bold" textLength="3.71" lengthAdjust="spacingAndGlyphs" fill="#000" stroke="#000">2</text>
<line x1="436.00" y1="274.45" x2="436.00" y2="271.29" stroke="#000" stroke-width="1.4" stroke-linecap="butt"/>
<line x1="433.80" y1="271.29" x2="438.20" y2="271.29" stroke="#000" stroke-width="1.7" stroke-linecap="butt"/>
<line x1="474.90" y1="241.27" x2="474.90" y2="235.35" stroke="#000" stroke-width="1.4" stroke-linecap="butt"/>
<line x1="472.70" y1="235.35" x2="477.10" y2="235.35" stroke="#000" stroke-width="1.7" stroke-linecap="butt"/>
<rect x="422.70" y="227.20" width="2.70" height="3.20" fill="#fff" stroke="#000" stroke-width="0.9"/>
<rect x="422.30" y="240.30" width="3.40" height="3.00" fill="#000"/>
<text x="426.84" y="231.52" font-size="7.03" font-weight="normal" textLength="33.59" lengthAdjust="spacingAndGlyphs" fill="#000" stroke="#000">pCDNA3.1</text>
<text x="427.00" y="244.71" font-size="7.32" font-weight="normal" textLength="27.65" lengthAdjust="spacingAndGlyphs" fill="#000" stroke="#000">KLF4ER</text>
<text x="330.09" y="399.12" font-size="11.97" font-weight="bold" textLength="37.91" lengthAdjust="spacingAndGlyphs" fill="#000" stroke="#000">KM-H2</text>
<text x="437.99" y="398.35" font-size="11.93" font-weight="bold" textLength="27.19" lengthAdjust="spacingAndGlyphs" fill="#000" stroke="#000">L428</text>
<text transform="translate(275.93,480.10) rotate(-90)" font-size="10.15" font-weight="bold" textLength="62.59" lengthAdjust="spacingAndGlyphs" fill="#000" stroke="#000">apoptosis, %</text>
<text x="269.17" y="499.56" font-size="8.91" font-weight="bold" textLength="26.72" lengthAdjust="spacingAndGlyphs" fill="#000" stroke="#000">4-OHT</text>
<text x="270.52" y="514.52" font-size="9.21" font-weight="bold" textLength="27.45" lengthAdjust="spacingAndGlyphs" fill="#000" stroke="#000">Z-VAD</text>
<line x1="298.60" y1="411.30" x2="298.60" y2="487.60" stroke="#000" stroke-width="1.8" stroke-linecap="butt"/>
<line x1="295.60" y1="486.70" x2="392.50" y2="486.70" stroke="#000" stroke-width="1.8" stroke-linecap="butt"/>
<text x="289.22" y="490.00" font-size="9.61" font-weight="normal" textLength="3.96" lengthAdjust="spacingAndGlyphs" fill="#000" stroke="#000">0</text>
<line x1="295.60" y1="471.70" x2="298.60" y2="471.70" stroke="#000" stroke-width="1.5" stroke-linecap="butt"/>
<text x="285.24" y="475.00" font-size="9.61" font-weight="normal" textLength="7.94" lengthAdjust="spacingAndGlyphs" fill="#000" stroke="#000">20</text>
<line x1="295.60" y1="456.70" x2="298.60" y2="456.70" stroke="#000" stroke-width="1.5" stroke-linecap="butt"/>
<text x="285.44" y="460.00" font-size="9.61" font-weight="normal" textLength="7.73" lengthAdjust="spacingAndGlyphs" fill="#000" stroke="#000">40</text>
<line x1="295.60" y1="441.70" x2="298.60" y2="441.70" stroke="#000" stroke-width="1.5" stroke-linecap="butt"/>
<text x="285.24" y="445.00" font-size="9.61" font-weight="normal" textLength="7.94" lengthAdjust="spacingAndGlyphs" fill="#000" stroke="#000">60</text>
<line x1="295.60" y1="426.70" x2="298.60" y2="426.70" stroke="#000" stroke-width="1.5" stroke-linecap="butt"/>
<text x="285.30" y="430.00" font-size="9.61" font-weight="normal" textLength="7.88" lengthAdjust="spacingAndGlyphs" fill="#000" stroke="#000">80</text>
<line x1="295.60" y1="411.70" x2="298.60" y2="411.70" stroke="#000" stroke-width="1.5" stroke-linecap="butt"/>
<text x="281.47" y="415.00" font-size="9.61" font-weight="normal" textLength="11.70" lengthAdjust="spacingAndGlyphs" fill="#000" stroke="#000">100</text>
<rect x="304.05" y="476.95" width="5.60" height="9.75" fill="#fff" stroke="#000" stroke-width="1.5"/>
<rect x="310.40" y="473.80" width="7.70" height="12.90" fill="#000"/>
<rect x="328.45" y="479.72" width="6.20" height="6.98" fill="#fff" stroke="#000" stroke-width="1.5"/>
<rect x="335.40" y="480.40" width="6.80" height="6.30" fill="#000"/>
<rect x="353.45" y="459.55" width="5.30" height="27.15" fill="#fff" stroke="#000" stroke-width="1.5"/>
<rect x="359.50" y="430.98" width="7.30" height="55.72" fill="#000"/>
<rect x="377.15" y="470.20" width="5.60" height="16.50" fill="#fff" stroke="#000" stroke-width="1.5"/>
<rect x="383.50" y="443.50" width="7.70" height="43.20" fill="#000"/>
<line x1="314.10" y1="476.20" x2="314.10" y2="471.32" stroke="#000" stroke-width="1.4" stroke-linecap="butt"/>
<line x1="311.40" y1="471.32" x2="316.80" y2="471.32" stroke="#000" stroke-width="1.7" stroke-linecap="butt"/>
<line x1="311.40" y1="476.20" x2="316.80" y2="476.20" stroke="#000" stroke-width="1.7" stroke-linecap="butt"/>
<line x1="356.10" y1="462.10" x2="356.10" y2="455.57" stroke="#000" stroke-width="1.4" stroke-linecap="butt"/>
<line x1="353.60" y1="455.57" x2="358.60" y2="455.57" stroke="#000" stroke-width="1.7" stroke-linecap="butt"/>
<line x1="353.60" y1="462.10" x2="358.60" y2="462.10" stroke="#000" stroke-width="1.7" stroke-linecap="butt"/>
<line x1="363.30" y1="430.98" x2="363.30" y2="427.07" stroke="#000" stroke-width="1.4" stroke-linecap="butt"/>
<line x1="360.40" y1="427.07" x2="366.20" y2="427.07" stroke="#000" stroke-width="1.7" stroke-linecap="butt"/>
<line x1="360.40" y1="430.98" x2="366.20" y2="430.98" stroke="#000" stroke-width="1.7" stroke-linecap="butt"/>
<line x1="387.50" y1="443.50" x2="387.50" y2="440.20" stroke="#000" stroke-width="1.4" stroke-linecap="butt"/>
<line x1="384.50" y1="440.20" x2="390.50" y2="440.20" stroke="#000" stroke-width="1.7" stroke-linecap="butt"/>
<line x1="384.50" y1="443.50" x2="390.50" y2="443.50" stroke="#000" stroke-width="1.7" stroke-linecap="butt"/>
<line x1="418.00" y1="408.90" x2="418.00" y2="486.70" stroke="#000" stroke-width="1.8" stroke-linecap="butt"/>
<line x1="415.00" y1="485.80" x2="516.00" y2="485.80" stroke="#000" stroke-width="1.8" stroke-linecap="butt"/>
<text x="408.92" y="489.10" font-size="9.61" font-weight="normal" textLength="3.96" lengthAdjust="spacingAndGlyphs" fill="#000" stroke="#000">0</text>
<line x1="415.00" y1="470.50" x2="418.00" y2="470.50" stroke="#000" stroke-width="1.5" stroke-linecap="butt"/>
<text x="404.94" y="473.80" font-size="9.61" font-weight="normal" textLength="7.94" lengthAdjust="spacingAndGlyphs" fill="#000" stroke="#000">20</text>
<line x1="415.00" y1="455.20" x2="418.00" y2="455.20" stroke="#000" stroke-width="1.5" stroke-linecap="butt"/>
<text x="405.14" y="458.50" font-size="9.61" font-weight="normal" textLength="7.73" lengthAdjust="spacingAndGlyphs" fill="#000" stroke="#000">40</text>
<line x1="415.00" y1="439.90" x2="418.00" y2="439.90" stroke="#000" stroke-width="1.5" stroke-linecap="butt"/>
<text x="404.94" y="443.20" font-size="9.61" font-weight="normal" textLength="7.94" lengthAdjust="spacingAndGlyphs" fill="#000" stroke="#000">60</text>
<line x1="415.00" y1="424.60" x2="418.00" y2="424.60" stroke="#000" stroke-width="1.5" stroke-linecap="butt"/>
<text x="405.00" y="427.90" font-size="9.61" font-weight="normal" textLength="7.88" lengthAdjust="spacingAndGlyphs" fill="#000" stroke="#000">80</text>
<line x1="415.00" y1="409.30" x2="418.00" y2="409.30" stroke="#000" stroke-width="1.5" stroke-linecap="butt"/>
<text x="401.17" y="412.60" font-size="9.61" font-weight="normal" textLength="11.70" lengthAdjust="spacingAndGlyphs" fill="#000" stroke="#000">100</text>
<rect x="424.45" y="478.44" width="5.60" height="7.36" fill="#fff" stroke="#000" stroke-width="1.5"/>
<rect x="430.80" y="477.31" width="7.00" height="8.49" fill="#000"/>
<rect x="449.05" y="479.51" width="5.60" height="6.29" fill="#fff" stroke="#000" stroke-width="1.5"/>
<rect x="455.40" y="477.31" width="7.50" height="8.49" fill="#000"/>
<rect x="474.35" y="416.71" width="5.60" height="69.09" fill="#fff" stroke="#000" stroke-width="1.5"/>
<rect x="480.70" y="416.34" width="8.00" height="69.46" fill="#000"/>
<rect x="499.55" y="440.42" width="5.60" height="45.38" fill="#fff" stroke="#000" stroke-width="1.5"/>
<rect x="505.90" y="434.77" width="7.50" height="51.03" fill="#000"/>
<line x1="510.40" y1="434.77" x2="510.40" y2="432.79" stroke="#000" stroke-width="1.4" stroke-linecap="butt"/>
<line x1="507.80" y1="432.79" x2="513.00" y2="432.79" stroke="#000" stroke-width="1.7" stroke-linecap="butt"/>
<line x1="507.80" y1="434.77" x2="513.00" y2="434.77" stroke="#000" stroke-width="1.7" stroke-linecap="butt"/>
<rect x="309.70" y="496.05" width="3.00" height="1.50" fill="#000"/>
<rect x="309.70" y="510.65" width="3.00" height="1.50" fill="#000"/>
<rect x="333.70" y="496.05" width="3.00" height="1.50" fill="#000"/>
<rect x="332.90" y="510.60" width="4.60" height="1.60" fill="#000"/>
<rect x="334.40" y="509.10" width="1.60" height="4.60" fill="#000"/>
<rect x="357.70" y="496.00" width="4.60" height="1.60" fill="#000"/>
<rect x="359.20" y="494.50" width="1.60" height="4.60" fill="#000"/>
<rect x="358.50" y="510.65" width="3.00" height="1.50" fill="#000"/>
<rect x="381.00" y="496.00" width="4.60" height="1.60" fill="#000"/>
<rect x="382.50" y="494.50" width="1.60" height="4.60" fill="#000"/>
<rect x="381.00" y="510.60" width="4.60" height="1.60" fill="#000"/>
<rect x="382.50" y="509.10" width="1.60" height="4.60" fill="#000"/>
<rect x="429.30" y="496.05" width="3.00" height="1.50" fill="#000"/>
<rect x="429.30" y="510.65" width="3.00" height="1.50" fill="#000"/>
<rect x="454.00" y="496.05" width="3.00" height="1.50" fill="#000"/>
<rect x="453.20" y="510.60" width="4.60" height="1.60" fill="#000"/>
<rect x="454.70" y="509.10" width="1.60" height="4.60" fill="#000"/>
<rect x="479.70" y="496.00" width="4.60" height="1.60" fill="#000"/>
<rect x="481.20" y="494.50" width="1.60" height="4.60" fill="#000"/>
<rect x="480.50" y="510.65" width="3.00" height="1.50" fill="#000"/>
<rect x="504.00" y="496.00" width="4.60" height="1.60" fill="#000"/>
<rect x="505.50" y="494.50" width="1.60" height="4.60" fill="#000"/>
<rect x="504.00" y="510.60" width="4.60" height="1.60" fill="#000"/>
<rect x="505.50" y="509.10" width="1.60" height="4.60" fill="#000"/>
<rect x="311.95" y="419.75" width="3.10" height="5.75" fill="#fff" stroke="#000" stroke-width="1.5"/>
<rect x="312.00" y="434.00" width="3.80" height="5.80" fill="#000"/>
<text x="317.59" y="426.61" font-size="9.61" font-weight="normal" textLength="16.08" lengthAdjust="spacingAndGlyphs" fill="#000" stroke="#000">Day 3</text>
<text x="317.59" y="439.81" font-size="9.61" font-weight="normal" textLength="16.28" lengthAdjust="spacingAndGlyphs" fill="#000" stroke="#000">Day 5</text>
<rect x="437.35" y="412.75" width="3.70" height="6.30" fill="#fff" stroke="#000" stroke-width="1.5"/>
<rect x="437.20" y="429.40" width="4.30" height="5.40" fill="#000"/>
<text x="442.97" y="419.54" font-size="9.94" font-weight="normal" textLength="16.77" lengthAdjust="spacingAndGlyphs" fill="#000" stroke="#000">Day 2</text>
<text x="442.97" y="434.97" font-size="9.28" font-weight="normal" textLength="16.93" lengthAdjust="spacingAndGlyphs" fill="#000" stroke="#000">Day 3</text>
</svg>
</body></html>
